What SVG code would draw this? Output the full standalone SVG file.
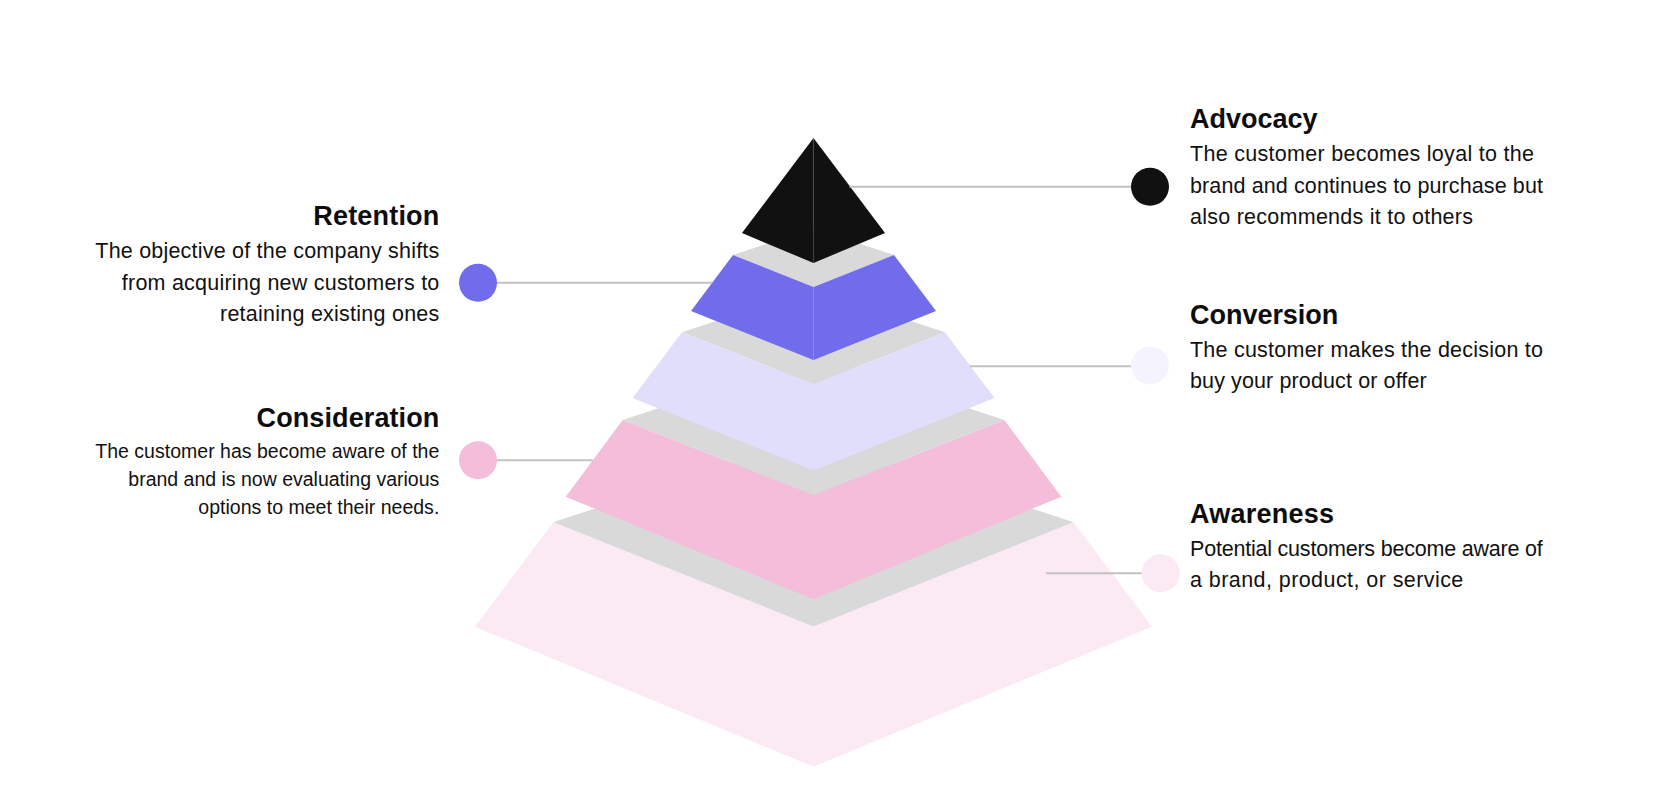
<svg xmlns="http://www.w3.org/2000/svg" width="1670" height="810" viewBox="0 0 1670 810">
<style>
.title{font-family:"Liberation Sans",Arial,sans-serif;font-weight:700;font-size:27px;fill:#0d0d0d}
.body{font-family:"Liberation Sans",Arial,sans-serif;font-weight:400;font-size:21.5px;fill:#111111}
.small{font-size:19.5px}
.end{text-anchor:end}
.top{fill:#d9d9d9}
.conn{stroke:#c2c2c2;stroke-width:2;fill:none}
</style>
<rect width="1670" height="810" fill="#ffffff"/>
<g id="pyramid">
<g id="layer-awareness">
<polygon class="top" points="553.3,522.3 813.5,436.4 1073.7,522.3 813.5,626.7"/>
<polygon fill="#fbe9f4" points="553.3,522.3 813.5,626.7 813.5,766.7 475,626.7"/>
<polygon fill="#fbe9f4" points="813.5,626.7 1073.7,522.3 1152,626.7 813.5,766.7"/>
</g>
<g id="layer-consideration">
<polygon class="top" points="622.7,420 813.5,357 1004.3,420 813.5,495"/>
<polygon fill="#f4bedb" points="622.7,420 813.5,495 813.5,599.3 565.7,496.7"/>
<polygon fill="#f4bedb" points="813.5,495 1004.3,420 1061.3,496.7 813.5,599.3"/>
</g>
<g id="layer-conversion">
<polygon class="top" points="682,332.3 813.5,288.9 945,332.3 813.5,384"/>
<polygon fill="#e1defb" points="682,332.3 813.5,384 813.5,470.5 632.5,398"/>
<polygon fill="#e1defb" points="813.5,384 945,332.3 994.5,398 813.5,470.5"/>
</g>
<g id="layer-retention">
<polygon class="top" points="733,255 813.5,228.4 894,255 813.5,287"/>
<polygon fill="#716cec" points="733,255 813.5,287 813.5,360 691,311"/>
<polygon fill="#716cec" points="813.5,287 894,255 936,311 813.5,360"/>
</g>
<g id="layer-advocacy">
<polygon fill="#111111" points="813.5,138 813.5,263 742,233"/>
<polygon fill="#111111" points="813.5,138 885,233 813.5,263"/>
</g>
</g>
<g id="connectors">
<line class="conn" x1="849.5" y1="186.7" x2="1140" y2="186.7"/>
<line class="conn" x1="488" y1="282.7" x2="712.2" y2="282.7"/>
<line class="conn" x1="969.7" y1="366.3" x2="1140" y2="366.3"/>
<line class="conn" x1="488" y1="460.3" x2="592.7" y2="460.3"/>
<line class="conn" x1="1046" y1="573.3" x2="1150" y2="573.3"/>
</g>
<g id="node-advocacy">
<circle cx="1150" cy="186.7" r="19" fill="#111111"/>
<text class="title" x="1190" y="128.3" textLength="127.5">Advocacy</text>
<text class="body" x="1190" y="161.3" textLength="344">The customer becomes loyal to the</text>
<text class="body" x="1190" y="192.8" textLength="353">brand and continues to purchase but</text>
<text class="body" x="1190" y="224.3" textLength="283">also recommends it to others</text>
</g>
<g id="node-retention">
<circle cx="478" cy="282.7" r="19" fill="#716cec"/>
<text class="title end" x="439.3" y="225" textLength="126">Retention</text>
<text class="body end" x="439.3" y="258" textLength="344">The objective of the company shifts</text>
<text class="body end" x="439.3" y="289.5" textLength="317.5">from acquiring new customers to</text>
<text class="body end" x="439.3" y="321" textLength="219.3">retaining existing ones</text>
</g>
<g id="node-conversion">
<circle cx="1150" cy="365.5" r="19" fill="#f5f4fe"/>
<text class="title" x="1190" y="323.8" textLength="148.3">Conversion</text>
<text class="body" x="1190" y="356.8" textLength="353">The customer makes the decision to</text>
<text class="body" x="1190" y="388.3" textLength="236.7">buy your product or offer</text>
</g>
<g id="node-consideration">
<circle cx="478" cy="460.3" r="19" fill="#f4bedb"/>
<text class="title end" x="439.3" y="427.3" textLength="182.7">Consideration</text>
<text class="body small end" x="439.3" y="458.3" textLength="344">The customer has become aware of the</text>
<text class="body small end" x="439.3" y="486" textLength="311">brand and is now evaluating various</text>
<text class="body small end" x="439.3" y="513.7" textLength="241">options to meet their needs.</text>
</g>
<g id="node-awareness">
<circle cx="1160.7" cy="573.3" r="19" fill="#fbe9f4"/>
<text class="title" x="1190" y="522.8" textLength="144">Awareness</text>
<text class="body" x="1190" y="555.8" textLength="352.7">Potential customers become aware of</text>
<text class="body" x="1190" y="587.3" textLength="273.3">a brand, product, or service</text>
</g>
</svg>
